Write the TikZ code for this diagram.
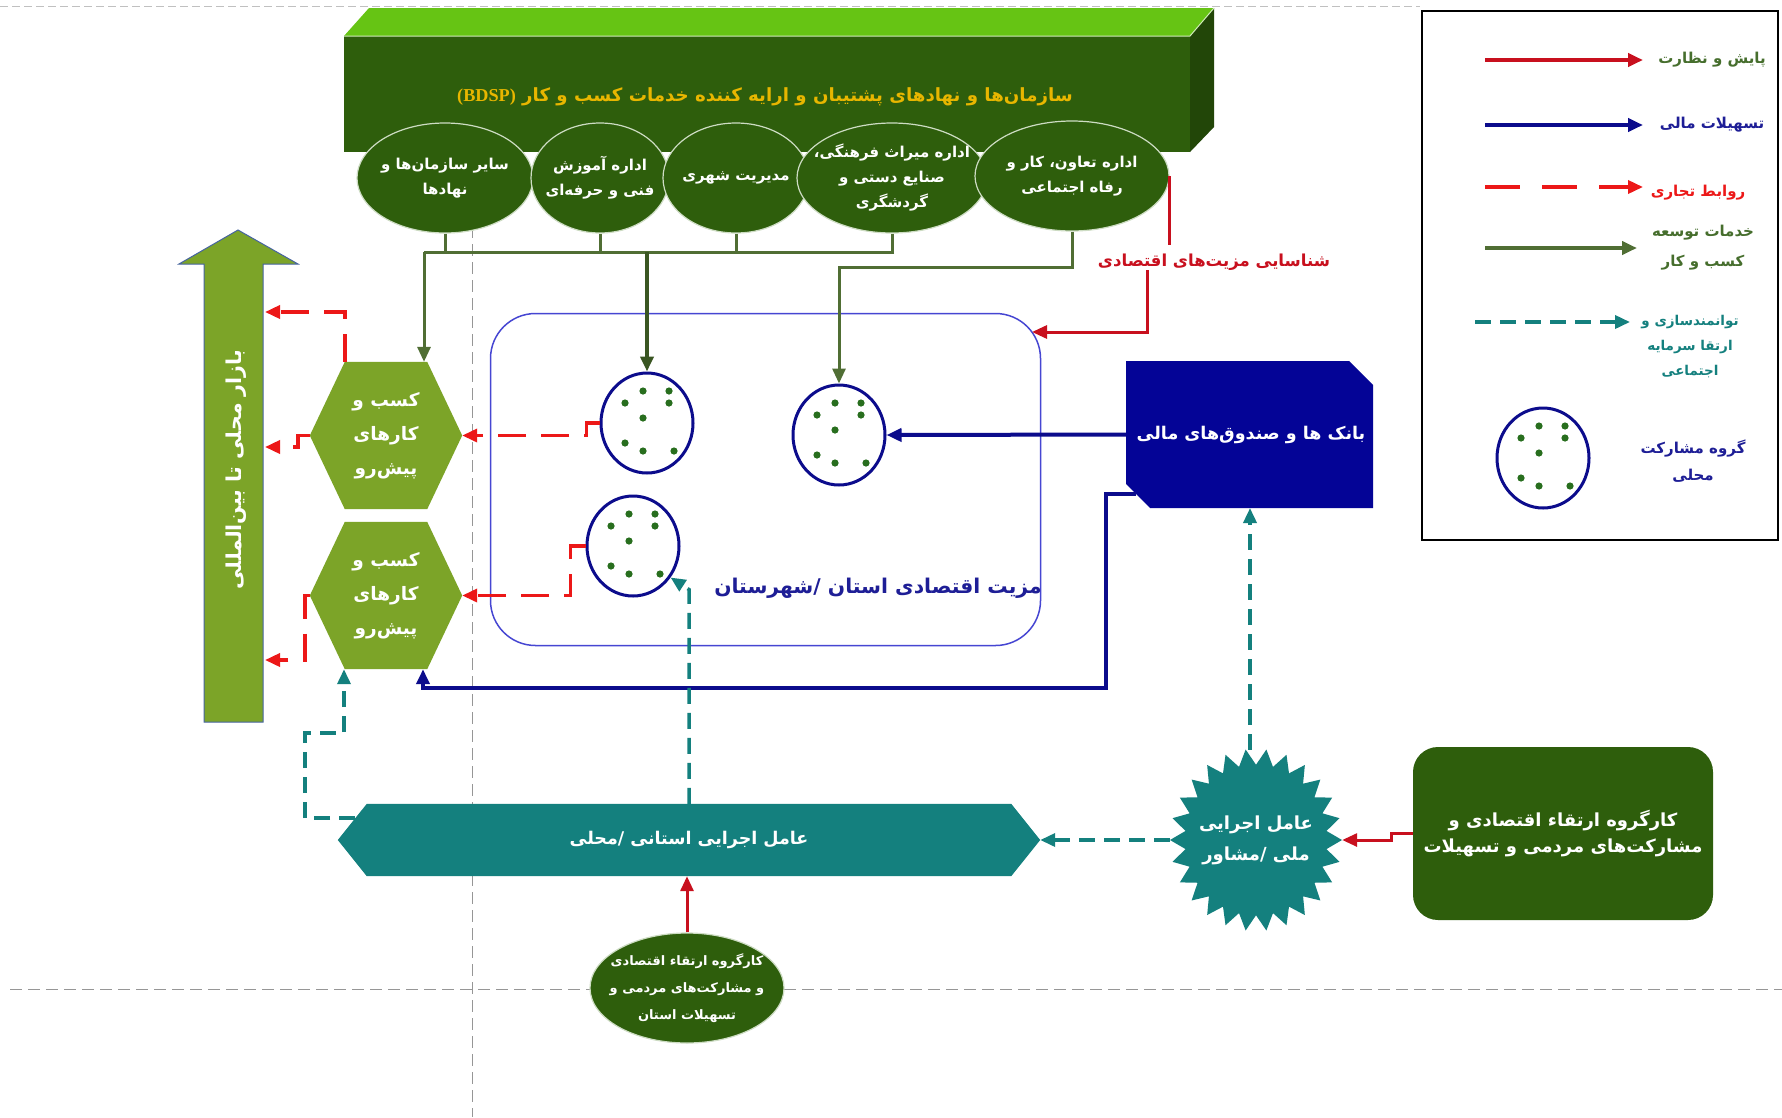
\documentclass[tikz,border=0pt]{standalone}
\usepackage{fontspec}
\usetikzlibrary{arrows.meta,shapes.geometric,calc}
\TeXXeTstate=1
\newfontfamily\arabicfont[Script=Arabic]{DejaVu Sans}
\newfontfamily\latinfont{Liberation Serif}
\newcommand{\fa}[1]{\beginR#1\endR}
\pgfdeclarelayer{bg}
\pgfsetlayers{bg,main}
\definecolor{dkgreen}{RGB}{46,94,12}
\definecolor{topgreen}{RGB}{102,196,20}
\definecolor{sidegreen}{RGB}{34,70,8}
\definecolor{hexolive}{RGB}{124,164,40}
\definecolor{cgreen}{RGB}{80,110,52}
\definecolor{cgreendk}{RGB}{58,86,34}
\definecolor{cred}{RGB}{236,24,24}
\definecolor{mred}{RGB}{200,16,30}
\definecolor{cblue}{RGB}{12,12,140}
\definecolor{bankblue}{RGB}{4,4,150}
\definecolor{cteal}{RGB}{20,128,126}
\definecolor{titlegold}{RGB}{232,182,0}
\definecolor{rrblue}{RGB}{70,70,210}
\definecolor{dotgreen}{RGB}{40,110,30}
\definecolor{txtblue}{RGB}{30,30,150}
\definecolor{legtxtgreen}{RGB}{70,110,45}
\definecolor{ellbd}{RGB}{205,220,195}
\definecolor{gridgray}{RGB}{150,150,150}
\definecolor{arrowedge}{RGB}{70,100,160}
\begin{document}
\begin{tikzpicture}[x=1pt,y=-1pt,
  ell/.style={ellipse, fill=dkgreen, draw=ellbd, line width=1.2pt, inner xsep=-40pt, inner ysep=-30pt, text=white, align=center, font={\arabicfont\bfseries\fontsize{15pt}{25pt}\selectfont}},
  grp/.style={ellipse, draw=cblue, line width=3pt, minimum width=92pt, minimum height=100pt, inner sep=0pt},
  tip/.style={-{Triangle[length=15pt,width=13pt]}},
  gline/.style={draw=cgreen, line width=3pt},
  glinedk/.style={draw=cgreendk, line width=4pt},
  mredline/.style={draw=mred, line width=3pt},
  rdash/.style={draw=cred, line width=3.5pt, dash pattern=on 28pt off 15pt},
  rdashleg/.style={draw=cred, line width=3.5pt, dash pattern=on 35pt off 22pt},
  bline/.style={draw=cblue, line width=4pt},
  tdash/.style={draw=cteal, line width=3.5pt, dash pattern=on 16pt off 9pt},
  hexnode/.style={rectangle, minimum width=152pt, minimum height=147pt, inner sep=0pt, text=white, align=center, font={\arabicfont\bfseries\fontsize{18.5pt}{34pt}\selectfont}},
  legtext/.style={align=center, inner sep=0pt, font={\arabicfont\bfseries\fontsize{15pt}{27pt}\selectfont}},
  plain/.style={inner sep=0pt, align=center}
]
\useasboundingbox (0,0) rectangle (1782,1117);

% ---------- title ----------
\node[plain, text=titlegold, font={\arabicfont\bfseries\fontsize{18.2pt}{23pt}\selectfont}] (T) at (765,97)
  {\fa{سازمان‌ها و نهادهای پشتیبان و ارایه کننده خدمات کسب و کار \beginL{\latinfont\bfseries(BDSP)}\endL}};

% ---------- ellipses ----------
\node[ell, minimum width=176pt, minimum height=110pt] (E1) at (445,178) {\fa{سایر سازمان‌ها و}\\\fa{نهادها}};
\node[ell, minimum width=138pt, minimum height=110pt] (E2) at (600,178) {\fa{اداره آموزش}\\\fa{فنی و حرفه‌ای}};
\node[ell, minimum width=146pt, minimum height=110pt] (E3) at (736,178) {\fa{مدیریت شهری}};
\node[ell, minimum width=190pt, minimum height=110pt] (E4) at (892,178) {\fa{اداره میراث فرهنگی،}\\\fa{صنایع دستی و}\\\fa{گردشگری}};
\node[ell, minimum width=194pt, minimum height=110pt] (E5) at (1072,176) {\fa{اداره تعاون، کار و}\\\fa{رفاه اجتماعی}};

% ---------- region ----------
\node[draw=rrblue, line width=1.5pt, rounded corners=45pt, minimum width=550pt, minimum height=332pt, inner sep=0pt] (R) at (765.5,479.5) {};
\node[plain, text=txtblue, font={\arabicfont\bfseries\fontsize{20.3pt}{25pt}\selectfont}] (RT) at (878,588) {\fa{مزیت اقتصادی استان \mbox{/}شهرستان}};

% ---------- groups ----------
\node[grp] (C1) at (647,423) {};
\node[grp] (C2) at (839,435) {};
\node[grp] (C3) at (633,546) {};

% ---------- hexagons ----------
\node[hexnode] (H1) at (386,435.5) {\fa{کسب و}\\\fa{کارهای}\\\fa{پیش‌رو}};
\node[hexnode] (H2) at (386,595.5) {\fa{کسب و}\\\fa{کارهای}\\\fa{پیش‌رو}};

% ---------- big arrow label ----------
\node[plain, rotate=90, text=white, font={\arabicfont\bfseries\fontsize{20.5pt}{24pt}\selectfont}] (BT) at (236,470) {\fa{بازار محلی تا بین‌المللی}};
\coordinate (BAe1) at (265,312);
\coordinate (BAe2) at (265,447);
\coordinate (BAe3) at (265,660);

% ---------- bank ----------
\node[rectangle, minimum width=247pt, minimum height=147pt, inner sep=0pt, text=white, font={\arabicfont\bfseries\fontsize{17.5pt}{22pt}\selectfont}] (B) at (1251,434.5) {\fa{بانک ها و صندوق‌های مالی}};

% ---------- label ----------
\node[plain, text=mred, font={\arabicfont\bfseries\fontsize{16.5pt}{20pt}\selectfont}] (LBL) at (1214,262) {\fa{شناسایی مزیت‌های اقتصادی}};
\coordinate (rtip) at (1032,332);

% ---------- long hexagon ----------
\node[rectangle, minimum width=702pt, minimum height=72pt, inner sep=0pt, text=white, font={\arabicfont\bfseries\fontsize{17.5pt}{22pt}\selectfont}] (LH) at (689,840) {\fa{عامل اجرایی استانی \mbox{/}محلی}};

% ---------- bottom ellipse ----------
\node[ell, minimum width=194pt, minimum height=110pt, font={\arabicfont\bfseries\fontsize{13pt}{27pt}\selectfont}] (BE) at (687,988) {\fa{کارگروه ارتقاء اقتصادی}\\\fa{و مشارکت‌های مردمی و}\\\fa{تسهیلات استان}};

% ---------- star ----------
\node[ellipse, minimum width=172pt, minimum height=180pt, inner xsep=-30pt, inner ysep=-20pt, text=white, align=center, font={\arabicfont\bfseries\fontsize{18pt}{31pt}\selectfont}] (S) at (1256,840) {\fa{عامل اجرایی}\\\fa{ملی \mbox{/}مشاور}};

% ---------- right box ----------
\node[fill=dkgreen, rounded corners=25pt, minimum width=300pt, minimum height=173pt, inner sep=0pt, text=white, align=center, font={\arabicfont\bfseries\fontsize{18pt}{26pt}\selectfont}] (RR) at (1563,833.5) {\fa{کارگروه ارتقاء اقتصادی و}\\\fa{مشارکت‌های مردمی و تسهیلات}};

% ---------- legend ----------
\node[draw=black, line width=2pt, minimum width=356pt, minimum height=529pt, inner sep=0pt] (LG) at (1599.5,275.5) {};
\coordinate (l1s) at (1485,60);  \coordinate (l1e) at (1643,60);
\coordinate (l2s) at (1485,125); \coordinate (l2e) at (1643,125);
\coordinate (l3s) at (1485,187); \coordinate (l3e) at (1643,187);
\coordinate (l4s) at (1485,248); \coordinate (l4e) at (1637,248);
\coordinate (l5s) at (1475,322); \coordinate (l5e) at (1630,322);
\node[legtext, text=legtxtgreen] (L1) at (1712,60) {\fa{پایش و نظارت}};
\node[legtext, text=txtblue] (L2) at (1712,125) {\fa{تسهیلات مالی}};
\node[legtext, text=cred] (L3) at (1698,193) {\fa{روابط تجاری}};
\node[legtext, text=legtxtgreen, font={\arabicfont\bfseries\fontsize{15pt}{30pt}\selectfont}] (L4) at (1703,248) {\fa{خدمات توسعه}\\\fa{کسب و کار}};
\node[legtext, text=cteal, font={\arabicfont\bfseries\fontsize{13.5pt}{25pt}\selectfont}] (L5) at (1690,347) {\fa{توانمندسازی و}\\\fa{ارتقا سرمایه}\\\fa{اجتماعی}};
\node[grp] (LC) at (1543,458) {};
\node[legtext, text=txtblue] (L6) at (1693,461) {\fa{گروه مشارکت}\\\fa{محلی}};

% dots
\foreach \cc in {C1,C2,C3,LC}{
  \foreach \dx/\dy in {-4/-32,22/-32,22/-20,-22/-20,-4/-5,-22/20,-4/28,27/28}{
    \fill[dotgreen] ($(\cc)+(\dx,\dy)$) circle (3.6pt);
  }
}

% ---------- background shapes ----------
\begin{pgfonlayer}{bg}
\fill[white] (0,0) rectangle (1782,1117);
\draw[gridgray!60, line width=0.6pt, dash pattern=on 8pt off 4pt] (0,6) -- (1420,6);
\draw[gridgray, line width=1pt, dash pattern=on 12pt off 6pt] (472,10) -- (472,1117);
\draw[gridgray, line width=1pt, dash pattern=on 12pt off 6pt] (10,989) -- (1782,989);
% top box
\fill[topgreen] (344,36) -- (369,8) -- (1214,8) -- (1190,36) -- cycle;
\fill[sidegreen] (1190,36) -- (1214,8) -- (1214,127) -- (1190,152) -- cycle;
\fill[dkgreen] (344,36) rectangle (1190,152);
\draw[white!70!topgreen, line width=1pt] (344,36) -- (1190,36) -- (1214,8);
% hexagons
\foreach \h in {H1,H2}{
  \fill[hexolive] (\h.west) -- ([xshift=35pt]\h.north west) -- ([xshift=-35pt]\h.north east) -- (\h.east)
     -- ([xshift=-35pt]\h.south east) -- ([xshift=35pt]\h.south west) -- cycle;
}
% big arrow
\filldraw[fill=hexolive, draw=arrowedge, line width=1pt] (204,722) -- (204,264) -- (179,264) -- (238,230) -- (298,264) -- (263,264) -- (263,722) -- cycle;
% bank
\fill[bankblue] (1126,361) -- (1349,361) -- (1373,385) -- (1373,508) -- (1150,508) -- (1126,484) -- cycle;
% long hexagon
\fill[cteal] (LH.west) -- ([xshift=29pt]LH.north west) -- ([xshift=-29pt]LH.north east) -- (LH.east)
   -- ([xshift=-29pt]LH.south east) -- ([xshift=29pt]LH.south west) -- cycle;
% star
\fill[cteal] plot[samples at={0,1,...,51}, variable=\k]
  ({1256+(78.5+7.5*cos(\k*180))*cos(\k*6.9230769)}, {840+1.06*(78.5+7.5*cos(\k*180))*sin(\k*6.9230769)}) -- cycle;
\end{pgfonlayer}

% ---------- connectors ----------
\coordinate (busL) at (424,252);
\coordinate (busR) at (894,252);
\coordinate (bankW) at (1126,434.5);
\coordinate (bankS) at (1250,508);
\coordinate (bstart) at (1136,494);
\draw[gline] (E1.south) -- (E1.south |- busL);
\draw[gline] (E2.south) -- (E2.south |- busL);
\draw[gline] (E3.south) -- (E3.south |- busL);
\draw[gline] (E4.south) -- (E4.south |- busL);
\draw[gline] (busR) -- (busL);
\draw[gline, tip] (busL) -- ([xshift=38pt]H1.north);
\draw[glinedk, tip] (C1.north |- busL) -- (C1.north);
\draw[gline, tip] (E5.south) -- ++(0,36) -| (C2.north);

\draw[mredline] (E5.east) -- ++(0,69);
\draw[mredline, tip] ([xshift=-67pt]LBL.south) -- ([xshift=-67pt]LBL.south |- rtip) -- (rtip);

\draw[rdash, tip] (C1.west) -- ++(-13,0) |- (H1.east);
\draw[rdash, tip] (C3.west) -- ++(-15,0) |- (H2.east);
\draw[rdash, tip] ([xshift=-41pt]H1.north) |- (BAe1);
\draw[rdash, tip] (H1.west) -- ++(-12,0) |- (BAe2);
\draw[rdash, tip] (H2.west) -- ++(-5,0) |- (BAe3);

\coordinate (bcorner) at (1106,688);
\draw[bline, tip] (bankW) -- (C2.east);
\draw[bline, tip] (bstart) -| (bcorner) -| ([xshift=37pt]H2.south);

\coordinate (tstart) at (355,818);
\coordinate (tc1) at (305,733);
\draw[tdash, tip] (bankS |- S.north) -- (bankS);
\draw[tdash, tip] (S.west) -- (LH.east);
\draw[tdash, tip] (LH.north) -- ($(LH.north |- C3.-40)+(0,12)$) -- (C3.-40);
\draw[tdash, tip] (tstart) -| (tc1) -| ([xshift=-42pt]H2.south);

\draw[mredline, tip] (BE.north) -- (BE.north |- LH.south);
\draw[mredline, tip] (RR.west) -- ++(-21,0) |- (S.east);

% legend lines
\draw[mredline, line width=4pt, tip] (l1s) -- (l1e);
\draw[bline, tip] (l2s) -- (l2e);
\draw[rdashleg, tip] (l3s) -- (l3e);
\draw[gline, line width=4pt, tip] (l4s) -- (l4e);
\draw[tdash, tip] (l5s) -- (l5e);
\end{tikzpicture}
\end{document}
